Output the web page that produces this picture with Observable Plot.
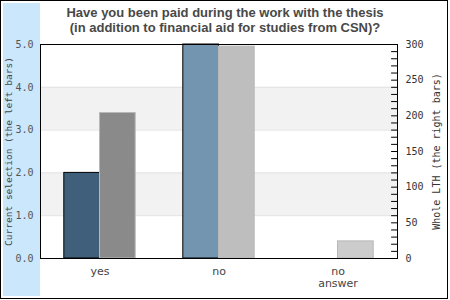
<!DOCTYPE html>
<html><head><meta charset="utf-8">
<script src="https://cdn.jsdelivr.net/npm/d3@7"></script>
<script src="https://cdn.jsdelivr.net/npm/@observablehq/plot@0.6"></script>
<style>
body{margin:0;background:#fff;}
#wrap{position:relative;width:450px;height:300px;overflow:hidden;}
#border{position:absolute;left:0;top:0;width:446px;height:297px;border:1px solid #000;}
#strip{position:absolute;left:3px;top:3px;width:37px;height:293px;background:#cbe7fb;}
#title{position:absolute;left:0;top:5px;width:450px;text-align:center;font:bold 13px "Liberation Sans",Arial,sans-serif;line-height:15px;color:#484848;z-index:2;}
#chart{position:absolute;left:0;top:0;z-index:1;}
</style></head>
<body><div id="wrap"><div id="border"></div><div id="strip"></div><div id="title">Have you been paid during the work with the thesis<br>(in addition to financial aid for studies from CSN)?</div><div id="chart"></div></div>
<script>
// ---- data ----
const categories = ["yes", "no", "no answer"];
const currentSelection = [2, 5, 0];        // left axis (0–5)
const wholeLTH = [204, 297, 24];            // right axis (0–300)
const leftFill = ["#3f5f7a", "#7395b0", "#7395b0"];
const rightFill = ["#8a8a8a", "#bebebe", "#cccccc"];
const leftTicks = [0, 1, 2, 3, 4, 5];
const rightTicks = [0, 50, 100, 150, 200, 250, 300];
const rightMinorTicks = [0,10,20,30,40,50,60,70,80,90,100,110,120,130,140,150,160,170,180,190,200,210,220,230,240,250,260,270,280,290,300];
const bandPairs = [[1, 2], [3, 4]];
const gridLines = [1, 2, 3, 4];
const leftMax = 5, rightMax = 300;

// ---- build ----
const toLeft = v => v * leftMax / rightMax;
const half = 0.3;
const leftRows = categories.map((c, i) => ({i, v: currentSelection[i], fill: leftFill[i]})).filter(d => d.v > 0);
const rightRows = categories.map((c, i) => ({i, v: toLeft(wholeLTH[i]), fill: rightFill[i]})).filter(d => d.v > 0);
const mono = "DejaVu Sans Mono";
const tickShape = {draw(context, l) { context.moveTo(0, 0); context.lineTo(0, -l); }};

const chart = Plot.plot({
  width: 450, height: 300,
  marginLeft: 40, marginRight: 53, marginTop: 44, marginBottom: 42,
  style: {background: "transparent", fontFamily: "DejaVu Sans", fontSize: "11px", overflow: "visible"},
  x: {domain: [-0.5, categories.length - 0.5]},
  y: {domain: [0, leftMax]},
  color: {type: "identity"},
  marks: [
    Plot.frame({fill: "white"}),
    Plot.rect(bandPairs, {y1: d => d[0], y2: d => d[1], fill: "#f2f2f2"}),
    Plot.ruleY(gridLines, {stroke: "#e2e2e2"}),
    Plot.rectY(leftRows, {x1: d => d.i - half, x2: d => d.i, y: "v", fill: "fill", stroke: "#000"}),
    Plot.rectY(rightRows, {x1: d => d.i, x2: d => d.i + half, y: "v", fill: "fill", stroke: "#b8b8b8"}),
    Plot.frame({stroke: "#000"}),
    Plot.vector(rightMinorTicks, {y: d => toLeft(d), frameAnchor: "right", rotate: -90, length: 6, anchor: "start", shape: tickShape, stroke: "#000", strokeWidth: 1}),
    Plot.axisY(leftTicks, {anchor: "left", tickSize: 0, tickPadding: 7, tickFormat: d => d.toFixed(1), fontFamily: mono, fontSize: 10, color: "#555", label: null}),
    Plot.axisY({anchor: "left", ticks: [], label: "Current selection (the left bars)", labelArrow: "none", labelAnchor: "center", labelOffset: 35, fontFamily: mono, fontSize: 9.5, color: "#444"}),
    Plot.axisY(rightTicks.map(toLeft), {anchor: "right", tickSize: 0, tickPadding: 8, tickFormat: d => String(Math.round(d * rightMax / leftMax)), fontFamily: mono, fontSize: 10, color: "#333", label: null}),
    Plot.axisY({anchor: "right", ticks: [], label: "Whole LTH (the right bars)", labelArrow: "none", labelAnchor: "center", labelOffset: 42, fontFamily: mono, fontSize: 10, color: "#333"}),
    Plot.axisX(categories.map((c, i) => i), {anchor: "bottom", tickSize: 0, tickPadding: 8, lineHeight: 1.1, tickFormat: i => categories[i].replace(" ", "\n"), fontSize: 11, color: "#444", label: null})
  ]
});
document.getElementById("chart").appendChild(chart);
</script>
</body></html>
